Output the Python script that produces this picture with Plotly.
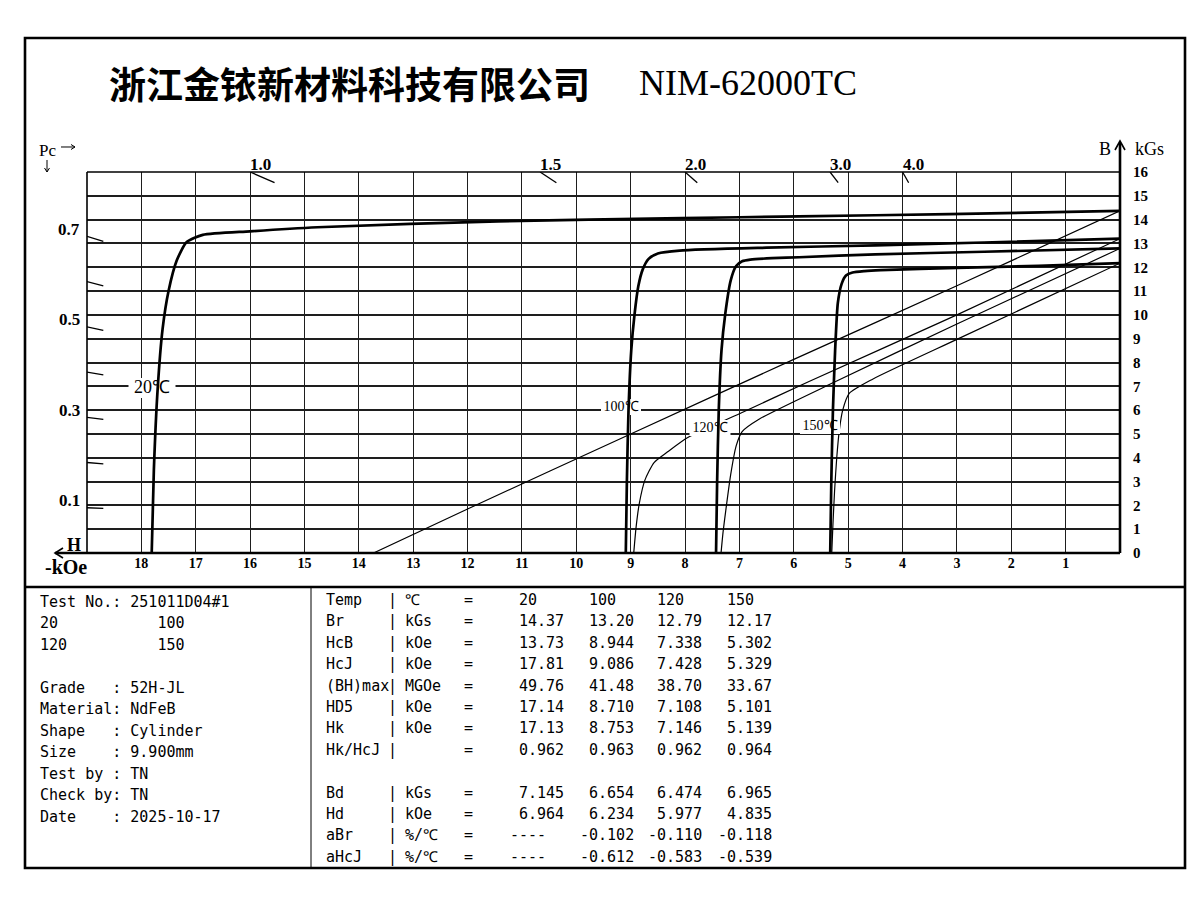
import plotly.graph_objects as go

# ---------------- data ----------------
temps = ["20", "100", "120", "150"]

# Intrinsic demagnetisation curves J(H)   (H in -kOe, J in kGs)
j20_h = [17.81, 17.77, 17.70, 17.61, 17.50, 17.35, 17.17, 16.87, 16.00, 14.76, 11.44, 8.06, 5.90, 3.14, 0.00]
j20_b = [0.00, 3.50, 6.90, 9.40, 11.00, 12.28, 13.05, 13.36, 13.51, 13.68, 13.93, 14.06, 14.14, 14.23, 14.37]

j100_h = [9.09, 9.07, 9.04, 8.99, 8.93, 8.86, 8.78, 8.67, 8.50, 8.10, 6.50, 4.50, 2.50, 0.00]
j100_b = [0.00, 3.00, 6.00, 8.50, 10.00, 11.20, 11.90, 12.35, 12.58, 12.70, 12.82, 12.92, 13.04, 13.20]

j120_h = [7.43, 7.41, 7.38, 7.33, 7.26, 7.16, 7.06, 6.95, 6.80, 6.40, 5.90, 4.50, 2.50, 0.00]
j120_b = [0.00, 3.00, 6.00, 8.50, 10.05, 11.45, 12.05, 12.25, 12.32, 12.38, 12.42, 12.54, 12.65, 12.79]

j150_h = [5.33, 5.31, 5.28, 5.24, 5.19, 5.12, 5.04, 4.92, 4.70, 4.40, 3.00, 1.50, 0.00]
j150_b = [0.00, 3.00, 6.00, 8.50, 10.50, 11.30, 11.65, 11.78, 11.84, 11.88, 11.97, 12.06, 12.17]

# Normal demagnetisation curves B(H)
b20_h = [13.73, 12.00, 9.00, 6.00, 3.00, 0.00]
b20_b = [0.00, 1.85, 5.00, 8.13, 11.22, 14.37]

b100_h = [8.944, 8.90, 8.84, 8.74, 8.57, 8.32, 7.95, 7.00, 5.72, 3.00, 0.00]
b100_b = [0.00, 1.10, 2.10, 3.05, 3.80, 4.25, 4.85, 5.85, 7.20, 10.00, 13.20]

b120_h = [7.338, 7.30, 7.25, 7.16, 7.06, 6.95, 6.64, 5.23, 3.00, 0.00]
b120_b = [0.00, 0.90, 1.80, 3.30, 4.50, 5.10, 5.62, 7.20, 9.62, 12.79]

b150_h = [5.302, 5.28, 5.25, 5.21, 5.16, 5.10, 4.98, 4.55, 3.00, 0.00]
b150_b = [0.00, 1.20, 2.60, 4.00, 5.20, 6.00, 6.70, 7.30, 8.97, 12.17]

# Axis ticks
h_ticks = list(range(1, 19))
b_ticks = list(range(0, 17))
pc_left = [0.1, 0.2, 0.3, 0.4, 0.5, 0.6, 0.7]
pc_left_labels = ["0.7", "0.5", "0.3", "0.1"]
pc_top = [1.0, 1.5, 2.0, 3.0, 4.0]
pc_top_labels = ["1.0", "1.5", "2.0", "3.0", "4.0"]

# Curve labels
curve_labels = ["20℃", "100℃", "120℃", "150℃"]

# Table values
row_names = ["Temp", "Br", "HcB", "HcJ", "(BH)max", "HD5", "Hk", "Hk/HcJ", "", "Bd", "Hd", "aBr", "aHcJ"]
row_units = ["℃", "kGs", "kOe", "kOe", "MGOe", "kOe", "kOe", "", None, "kGs", "kOe", "%/℃", "%/℃"]
val_temp = ["20", "100", "120", "150"]
val_br = ["14.37", "13.20", "12.79", "12.17"]
val_hcb = ["13.73", "8.944", "7.338", "5.302"]
val_hcj = ["17.81", "9.086", "7.428", "5.329"]
val_bhmax = ["49.76", "41.48", "38.70", "33.67"]
val_hd5 = ["17.14", "8.710", "7.108", "5.101"]
val_hk = ["17.13", "8.753", "7.146", "5.139"]
val_hkhcj = ["0.962", "0.963", "0.962", "0.964"]
val_bd = ["7.145", "6.654", "6.474", "6.965"]
val_hd = ["6.964", "6.234", "5.977", "4.835"]
val_abr = ["----", "-0.102", "-0.110", "-0.118"]
val_ahcj = ["----", "-0.612", "-0.583", "-0.539"]

info_lines = ["Test No.: 251011D04#1",
              "20" + "\u00a0" * 11 + "100",
              "120" + "\u00a0" * 10 + "150",
              "",
              "Grade\u00a0\u00a0\u00a0: 52H-JL",
              "Material: NdFeB",
              "Shape\u00a0\u00a0\u00a0: Cylinder",
              "Size\u00a0\u00a0\u00a0\u00a0: 9.900mm",
              "Test by : TN",
              "Check by: TN",
              "Date\u00a0\u00a0\u00a0\u00a0: 2025-10-17"]

title_cn = "浙江金铱新材料科技有限公司"
title_en = "NIM-62000TC"

# ---------------- geometry ----------------
OFF = 8                       # page body margin of the browser
FW, FH = 1200 - OFF, 900 - OFF
L, R, T, BOT = 87, 1120, 172, 553   # plot area in reference page pixels
XMAX, YMAX = 19, 16
sx = (R - L) / XMAX
sy = (BOT - T) / YMAX


def fx(p):
    return (p - L) / (R - L)


def fy(p):
    return (BOT - p) / (BOT - T)


def dh(p):
    return (R - p) / sx


def db(p):
    return (BOT - p) / sy


SERIF = "Liberation Serif"
MONO = "DejaVu Sans Mono"
SYM = "DejaVu Sans"

fig = go.Figure()

# Pc scale ticks (short segments along load lines)
tx, ty = [], []
for pc in pc_left:
    tx += [XMAX, XMAX - 0.3, None]
    ty += [XMAX * pc, (XMAX - 0.3) * pc, None]
for pc in pc_top:
    tx += [YMAX / pc, (YMAX - 0.45) / pc, None]
    ty += [YMAX, YMAX - 0.45, None]
fig.add_trace(go.Scatter(x=tx, y=ty, mode="lines", line=dict(color="black", width=1.3),
                         hoverinfo="skip", showlegend=False))

# Normal curves (thin)
for hh, bb in [(b20_h, b20_b), (b100_h, b100_b), (b120_h, b120_b), (b150_h, b150_b)]:
    fig.add_trace(go.Scatter(x=hh, y=bb, mode="lines",
                             line=dict(color="black", width=1.2, shape="spline", smoothing=0.6),
                             hoverinfo="skip", showlegend=False))

# Curve label backgrounds + text
label_pos = [(152, 388, 18, 47, 20), (621, 407, 14, 40, 16), (710, 428, 14, 41, 16), (820, 426, 14, 40, 16)]
for (cx, cy, fs, bw, bh) in label_pos:
    x0, x1 = dh(cx - bw / 2), dh(cx + bw / 2)
    y0, y1 = db(cy + bh / 2), db(cy - bh / 2)
    fig.add_trace(go.Scatter(x=[x0, x1, x1, x0, x0], y=[y0, y0, y1, y1, y0], mode="lines",
                             fill="toself", fillcolor="white", line=dict(width=0, color="white"),
                             hoverinfo="skip", showlegend=False))
for txt, (cx, cy, fs, bw, bh) in zip(curve_labels, label_pos):
    fig.add_trace(go.Scatter(x=[dh(cx)], y=[db(cy)], mode="text", text=[txt],
                             textposition="middle center",
                             textfont=dict(family=SERIF, size=fs, color="black"),
                             hoverinfo="skip", showlegend=False))

# Intrinsic curves (thick)
for hh, bb in [(j20_h, j20_b), (j100_h, j100_b), (j120_h, j120_b), (j150_h, j150_b)]:
    fig.add_trace(go.Scatter(x=hh, y=bb, mode="lines",
                             line=dict(color="black", width=2.7, shape="spline", smoothing=0.6),
                             hoverinfo="skip", showlegend=False))

# ---------------- shapes ----------------
shapes = []


def pline(x0, y0, x1, y1, w, color="black"):
    shapes.append(dict(type="line", xref="paper", yref="paper", x0=fx(x0), y0=fy(y0),
                       x1=fx(x1), y1=fy(y1), line=dict(color=color, width=w)))


def ppath(pts, w):
    d = "M " + " L ".join(f"{fx(a):.5f},{fy(b):.5f}" for a, b in pts)
    shapes.append(dict(type="path", xref="paper", yref="paper", path=d,
                       line=dict(color="black", width=w)))


# outer frame and dividers
shapes.append(dict(type="rect", xref="paper", yref="paper", x0=fx(25), x1=fx(1185), y0=fy(868), y1=fy(38),
                   line=dict(color="black", width=2.6)))
pline(25, 587, 1185, 587, 2.4)
pline(311, 587, 311, 868, 1.0)
# plot frame
pline(L, T, R, T, 1.6)
pline(L, T, L, BOT, 1.6)
# axes
pline(55, BOT, R, BOT, 2.6)
pline(R, BOT, R, 143, 2.6)
ppath([(63, 548), (55, BOT), (63, 558)], 1.6)
ppath([(1115, 150), (1120, 141), (1125, 150)], 1.6)
# small "Pc" direction arrows
ppath([(61, 147), (75, 147)], 1.0)
ppath([(71, 144.5), (75, 147), (71, 149.5)], 1.0)
ppath([(47, 160), (47, 172)], 1.0)
ppath([(44.5, 168), (47, 172), (49.5, 168)], 1.0)

# ---------------- annotations ----------------
anns = []


def ann(text, x, y, size, family=SERIF, xanchor="left", weight="normal"):
    anns.append(dict(text=text, x=fx(x), y=fy(y), xref="paper", yref="paper", showarrow=False,
                     xanchor=xanchor, yanchor="middle",
                     font=dict(family=family, size=size, color="black", weight=weight)))


ann(title_cn, 349, 83, 37, family="Noto Sans CJK SC", xanchor="center", weight="bold")
ann(title_en, 637, 83, 36, family=SERIF)

ann("Pc", 37, 150, 17)
for lab in pc_left_labels:
    v = float(lab)
    ann(lab, 82, BOT - XMAX * v * sy - 7, 17, xanchor="right", weight="bold")
for lab, pc in zip(pc_top_labels, pc_top):
    ann(lab, R - YMAX / pc * sx - 2, 165, 17, weight="bold")

ann("H", 65, 545, 18, weight="bold")
ann("-kOe", 66, 567, 20, xanchor="center", weight="bold")
ann("B", 1113, 149, 18, xanchor="right")
ann("kGs", 1133, 149, 18)

# info panel
for i, line in enumerate(info_lines):
    if line:
        ann(line, 38, 601.5 + i * 21.55, 15, family=MONO)

# results table
value_rows = [val_temp, val_br, val_hcb, val_hcj, val_bhmax, val_hd5, val_hk, val_hkhcj,
              None, val_bd, val_hd, val_abr, val_ahcj]
col_x = [517, 587, 655, 725]
for i, (name, unit, vals) in enumerate(zip(row_names, row_units, value_rows)):
    if vals is None:
        continue
    y = 600 + i * 21.4
    ann(name, 324, y, 15, family=MONO)
    ann("|", 392, y, 15, family=MONO, xanchor="center")
    if unit:
        ann(unit, 403, y, 15, family=MONO)
    ann("=", 468, y, 15, family=MONO, xanchor="center")
    for cx, v in zip(col_x, vals):
        ann(v, cx - (9 if v.startswith("-") else 0), y, 15, family=MONO)

fig.update_layout(
    width=FW, height=FH,
    margin=dict(l=L - OFF, r=FW - (R - OFF), t=T - OFF, b=FH - (BOT - OFF)),
    paper_bgcolor="white", plot_bgcolor="white",
    showlegend=False,
    shapes=shapes, annotations=anns,
    xaxis=dict(range=[XMAX, 0], tickvals=h_ticks, ticktext=[str(v) for v in h_ticks],
               showgrid=True, gridcolor="#1e1e1e", gridwidth=1.4, zeroline=False, showline=False,
               ticks="", tickfont=dict(family=SERIF, size=14, color="black", weight="bold"),
               fixedrange=True),
    yaxis=dict(range=[0, YMAX], tickvals=b_ticks, ticktext=[str(v) for v in b_ticks], side="right",
               showgrid=True, gridcolor="#1e1e1e", gridwidth=1.5, zeroline=False, showline=False,
               ticks="", ticklabelstandoff=12,
               tickfont=dict(family=SERIF, size=15, color="black", weight="bold"),
               fixedrange=True),
)

fig.write_html("out.html")
